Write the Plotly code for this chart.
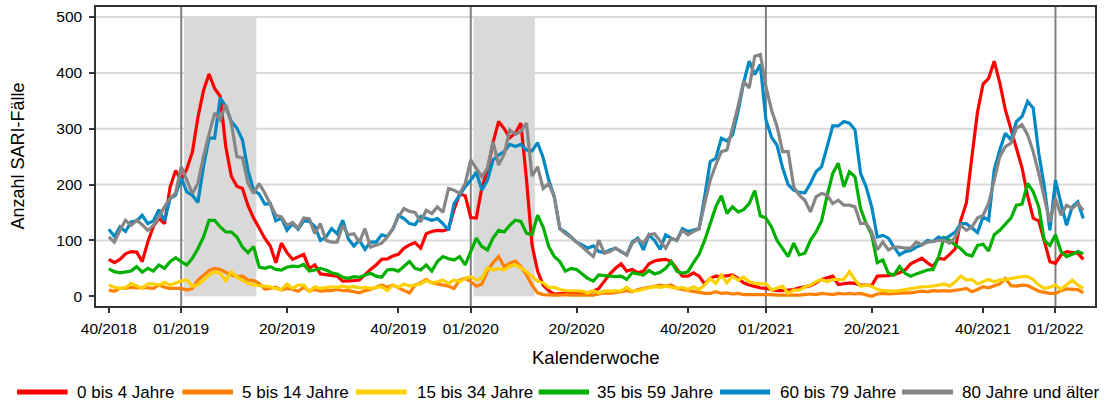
import plotly.graph_objects as go

# ---------------- data ----------------
weeks_per_year = {2018: 52, 2019: 52, 2020: 53, 2021: 52, 2022: 52}
n_weeks = 176
kw = []
_y, _w = 2018, 40
for _ in range(n_weeks):
    kw.append(f"{_w:02d}/{_y}")
    _w += 1
    if _w > weeks_per_year[_y]:
        _w, _y = 1, _y + 1

tick_labels = ["40/2018", "01/2019", "20/2019", "40/2019", "01/2020", "20/2020",
               "40/2020", "01/2021", "20/2021", "40/2021", "01/2022"]
year_starts = ["01/2019", "01/2020", "01/2021", "01/2022"]
flu_seasons = [("02/2019", "14/2019"), ("02/2020", "12/2020")]
y_grid = [100, 200, 300, 400, 500]
y_ticks = [0, 100, 200, 300, 400, 500]

age_0_4 = [66, 60, 66, 76, 80, 79, 62, 97, 125, 140,
           130, 195, 225, 208, 228, 258, 320, 368, 398, 372,
           358, 268, 215, 197, 193, 162, 140, 122, 104, 90,
           60, 95, 78, 66, 70, 75, 50, 56, 40, 39,
           38, 36, 27, 27, 28, 29, 39, 48, 56, 66,
           67, 72, 75, 86, 92, 96, 86, 112, 116, 118,
           117, 120, 155, 183, 180, 141, 140, 195, 225, 275,
           313, 300, 284, 292, 310, 210, 92, 45, 20, 10,
           4, 5, 6, 7, 7, 7, 6, 9, 14, 27,
           40, 50, 58, 45, 48, 42, 45, 58, 63, 65,
           66, 62, 48, 36, 36, 42, 36, 22, 32, 36,
           35, 36, 38, 32, 24, 20, 17, 15, 14, 12,
           10, 10, 11, 12, 15, 17, 19, 24, 30, 33,
           36, 21, 22, 24, 23, 20, 20, 19, 36, 36,
           37, 39, 42, 47, 58, 63, 68, 60, 53, 68,
           66, 75, 85, 136, 167, 250, 330, 380, 390, 421,
           382, 334, 298, 265, 230, 180, 140, 135, 100, 62,
           59, 74, 80, 78, 77, 66]

age_5_14 = [11, 9, 14, 14, 16, 15, 16, 15, 14, 20,
            16, 14, 14, 14, 11, 14, 29, 38, 46, 50,
            48, 43, 38, 35, 36, 29, 28, 23, 13, 14,
            16, 11, 14, 12, 9, 16, 9, 12, 9, 10,
            10, 12, 10, 10, 8, 6, 10, 12, 16, 20,
            16, 20, 15, 11, 6, 20, 24, 30, 24, 22,
            20, 18, 14, 29, 32, 26, 18, 22, 45, 60,
            71, 53, 59, 63, 53, 38, 20, 6, 3, 2,
            2, 2, 3, 2, 2, 2, 3, 2, 4, 6,
            5, 6, 8, 10, 8, 12, 14, 15, 17, 20,
            18, 20, 14, 12, 10, 8, 6, 5, 5, 8,
            5, 6, 4, 5, 3, 3, 4, 3, 4, 3,
            2, 2, 2, 1, 2, 3, 4, 3, 5, 4,
            3, 5, 4, 5, 4, 5, 2, 0, 4, 5,
            4, 5, 5, 6, 6, 7, 9, 8, 10, 9,
            10, 9, 10, 12, 14, 8, 12, 17, 15, 19,
            22, 32, 19, 18, 20, 19, 14, 9, 7, 5,
            5, 10, 13, 13, 12, 6]

age_15_34 = [20, 16, 14, 15, 23, 18, 14, 22, 22, 20,
             25, 20, 24, 27, 29, 18, 20, 30, 38, 44,
             41, 28, 44, 34, 28, 23, 20, 19, 18, 17,
             14, 12, 22, 14, 20, 20, 9, 17, 14, 16,
             17, 16, 18, 16, 17, 15, 16, 14, 15, 17,
             10, 20, 16, 22, 18, 20, 22, 28, 24, 26,
             29, 23, 29, 26, 32, 35, 29, 32, 51, 47,
             50, 47, 54, 56, 51, 44, 35, 27, 24, 16,
             16, 12, 10, 10, 10, 9, 6, 10, 6, 9,
             9, 9, 10, 16, 9, 10, 12, 14, 17, 16,
             18, 16, 14, 16, 12, 17, 12, 20, 32, 23,
             38, 24, 36, 29, 34, 26, 23, 22, 23, 11,
             14, 18, 5, 11, 11, 17, 20, 26, 30, 26,
             30, 30, 30, 44, 29, 18, 20, 18, 12, 10,
             9, 9, 10, 12, 14, 16, 17, 17, 18, 20,
             22, 18, 26, 36, 29, 30, 22, 26, 30, 26,
             29, 30, 32, 34, 35, 35, 30, 20, 14, 16,
             20, 12, 20, 29, 20, 14]

age_35_59 = [49, 44, 42, 43, 45, 53, 43, 50, 45, 56,
             50, 62, 69, 62, 56, 68, 85, 106, 136, 136,
             124, 115, 115, 106, 88, 78, 89, 52, 50, 53,
             48, 47, 52, 54, 53, 57, 45, 47, 50, 47,
             42, 40, 34, 32, 35, 34, 37, 41, 36, 34,
             47, 48, 45, 53, 62, 50, 47, 56, 45, 62,
             71, 67, 65, 71, 56, 80, 104, 89, 83, 104,
             118, 115, 127, 136, 134, 113, 110, 145, 124, 89,
             71, 62, 45, 50, 48, 40, 32, 27, 38, 37,
             36, 35, 36, 30, 42, 40, 38, 46, 40, 43,
             50, 62, 45, 41, 44, 60, 75, 100, 130, 160,
             180, 148, 160, 151, 155, 166, 189, 144, 140, 124,
             100, 85, 71, 95, 74, 77, 100, 115, 135, 180,
             220, 238, 196, 223, 214, 157, 130, 110, 60, 65,
             41, 38, 53, 41, 36, 40, 44, 47, 48, 70,
             105, 100, 92, 85, 75, 72, 91, 93, 81, 110,
             118, 128, 140, 163, 165, 202, 187, 160, 100, 91,
             110, 80, 71, 75, 80, 76]

age_60_79 = [120, 107, 124, 116, 133, 135, 145, 130, 135, 155,
             135, 175, 181, 212, 187, 181, 168, 232, 283, 283,
             355, 340, 313, 301, 280, 225, 190, 183, 165, 166,
             135, 140, 118, 130, 120, 135, 134, 125, 100, 106,
             121, 112, 136, 103, 90, 100, 84, 97, 97, 110,
             107, 120, 145, 139, 130, 128, 143, 140, 136, 139,
             130, 118, 166, 181, 196, 208, 222, 190, 208, 244,
             253, 259, 272, 268, 272, 262, 260, 275, 248, 208,
             178, 121, 115, 106, 97, 92, 86, 90, 80, 78,
             83, 86, 80, 74, 97, 104, 83, 110, 100, 84,
             110, 104, 100, 121, 116, 118, 121, 178, 241, 247,
             283, 278, 289, 331, 382, 421, 397, 415, 316, 285,
             270, 230, 200, 190, 186, 185, 202, 223, 232, 268,
             305, 305, 313, 310, 298, 220, 196, 160, 106, 109,
             104, 88, 74, 80, 82, 88, 92, 100, 98, 106,
             102, 108, 115, 130, 130, 122, 114, 142, 136, 226,
             262, 292, 280, 313, 322, 349, 337, 256, 196, 118,
             208, 166, 127, 160, 169, 139]

age_80_plus = [106, 97, 118, 136, 127, 136, 128, 118, 127, 142,
               160, 175, 185, 232, 208, 184, 202, 250, 290, 328,
               316, 343, 310, 250, 248, 202, 184, 202, 185, 166,
               145, 142, 127, 132, 122, 140, 139, 112, 130, 100,
               97, 97, 127, 110, 112, 97, 121, 88, 91, 95,
               106, 121, 142, 157, 152, 150, 133, 154, 148, 160,
               150, 193, 190, 184, 202, 244, 229, 214, 230, 277,
               235, 255, 298, 290, 295, 310, 215, 232, 193, 202,
               178, 121, 112, 106, 97, 88, 80, 71, 100, 77,
               80, 86, 80, 74, 95, 102, 95, 110, 112, 100,
               86, 104, 100, 118, 110, 116, 121, 166, 208, 235,
               259, 262, 300, 340, 385, 373, 430, 433, 376, 334,
               304, 259, 259, 196, 181, 172, 151, 178, 184, 181,
               166, 172, 163, 163, 160, 130, 131, 115, 83, 97,
               83, 88, 88, 86, 86, 97, 92, 97, 98, 100,
               100, 95, 106, 127, 118, 124, 140, 145, 166, 208,
               250, 268, 274, 301, 307, 289, 259, 220, 178, 133,
               175, 145, 163, 157, 166, 154]

series_names = ["0 bis 4 Jahre", "5 bis 14 Jahre", "15 bis 34 Jahre",
                "35 bis 59 Jahre", "60 bis 79 Jahre", "80 Jahre und älter"]
series_values = [age_0_4, age_5_14, age_15_34, age_35_59, age_60_79, age_80_plus]

# ---------------- style ----------------
colors = ["#ff0000", "#ff8000", "#ffd000", "#00b000", "#0089c3", "#868686"]
FONT = "Liberation Sans, Arial, sans-serif"
ML, MR, MT, MB = 96, 9, 7, 101
W, H = 1104, 407
PW, PH = W - ML - MR, H - MT - MB

def px_x(px):
    return (px - ML) / PW

def px_y(py):
    return (H - MB - py) / PH

fig = go.Figure()
for name, vals, col in zip(series_names, series_values, colors):
    fig.add_trace(go.Scatter(x=kw, y=vals, mode="lines", name=name,
                             line=dict(color=col, width=3.2),
                             showlegend=False))

shapes = []
for g in y_grid:
    shapes.append(dict(type="line", xref="paper", yref="y", x0=0, x1=1, y0=g, y1=g,
                       line=dict(color="#d9d9d9", width=2), layer="below"))
for a, b in flu_seasons:
    shapes.append(dict(type="rect", xref="x", yref="y",
                       x0=kw.index(a) - 0.5, x1=kw.index(b) + 0.5, y0=0, y1=500,
                       fillcolor="#d9d9d9", line=dict(width=0), layer="between"))
for ys in year_starts:
    i = kw.index(ys)
    shapes.append(dict(type="line", xref="x", yref="paper", x0=i, x1=i, y0=0, y1=1,
                       line=dict(color="#808080", width=2), layer="between"))

# manual legend
leg_y = px_y(392)
leg_lines = [(17, 67.6), (182.4, 233), (356, 406.7), (538.7, 589), (720, 770), (902, 953)]
leg_text_x = [75.7, 241, 415.5, 596, 779, 960.5]
annotations = []
for (x0, x1), tx, name, col in zip(leg_lines, leg_text_x, series_names, colors):
    shapes.append(dict(type="line", xref="paper", yref="paper",
                       x0=px_x(x0), x1=px_x(x1), y0=leg_y, y1=leg_y,
                       line=dict(color=col, width=5)))
    annotations.append(dict(text=name, xref="paper", yref="paper", x=px_x(tx), y=leg_y,
                            xanchor="left", yanchor="middle", showarrow=False,
                            borderpad=0,
                            font=dict(family=FONT, size=17, color="#000000")))

annotations.append(dict(text="Kalenderwoche", xref="paper", yref="paper",
                        x=0.5, y=px_y(358), xanchor="center", yanchor="middle",
                        showarrow=False, font=dict(family=FONT, size=18.5, color="#000")))
annotations.append(dict(text="Anzahl SARI-Fälle", xref="paper", yref="paper",
                        x=px_x(17), y=0.5, xanchor="center", yanchor="middle",
                        textangle=-90, showarrow=False,
                        font=dict(family=FONT, size=18, color="#000")))

fig.update_layout(
    template="none",
    width=W, height=H,
    margin=dict(l=ML, r=MR, t=MT, b=MB, pad=0, autoexpand=False),
    paper_bgcolor="white", plot_bgcolor="white",
    font=dict(family=FONT, size=15.5, color="#000"),
    shapes=shapes, annotations=annotations,
    showlegend=False,
)
fig.update_xaxes(type="category", categoryorder="array", categoryarray=kw,
                 range=[-2.3, 177.1], tickmode="array", tickvals=tick_labels,
                 ticktext=tick_labels, ticks="outside", ticklen=5, tickwidth=1.5,
                 tickcolor="#333", showgrid=False, zeroline=False, automargin=False,
                 showline=True, linecolor="#333", linewidth=1.5, mirror=True,
                 ticklabelstandoff=3,
                 tickfont=dict(family=FONT, size=15.5, color="#000"), tickangle=0)
fig.update_yaxes(range=[-17.5, 518], tickmode="array", tickvals=y_ticks,
                 ticks="outside", ticklen=5, tickwidth=1.5, tickcolor="#333",
                 showgrid=False, zeroline=False, showline=True, linecolor="#333",
                 linewidth=1.5, mirror=True, ticklabelstandoff=4, automargin=False,
                 tickfont=dict(family=FONT, size=15.5, color="#000"))

fig.write_html("out.html", config={"displayModeBar": False},
               post_script="document.body.style.margin='0';document.body.style.padding='0';")
